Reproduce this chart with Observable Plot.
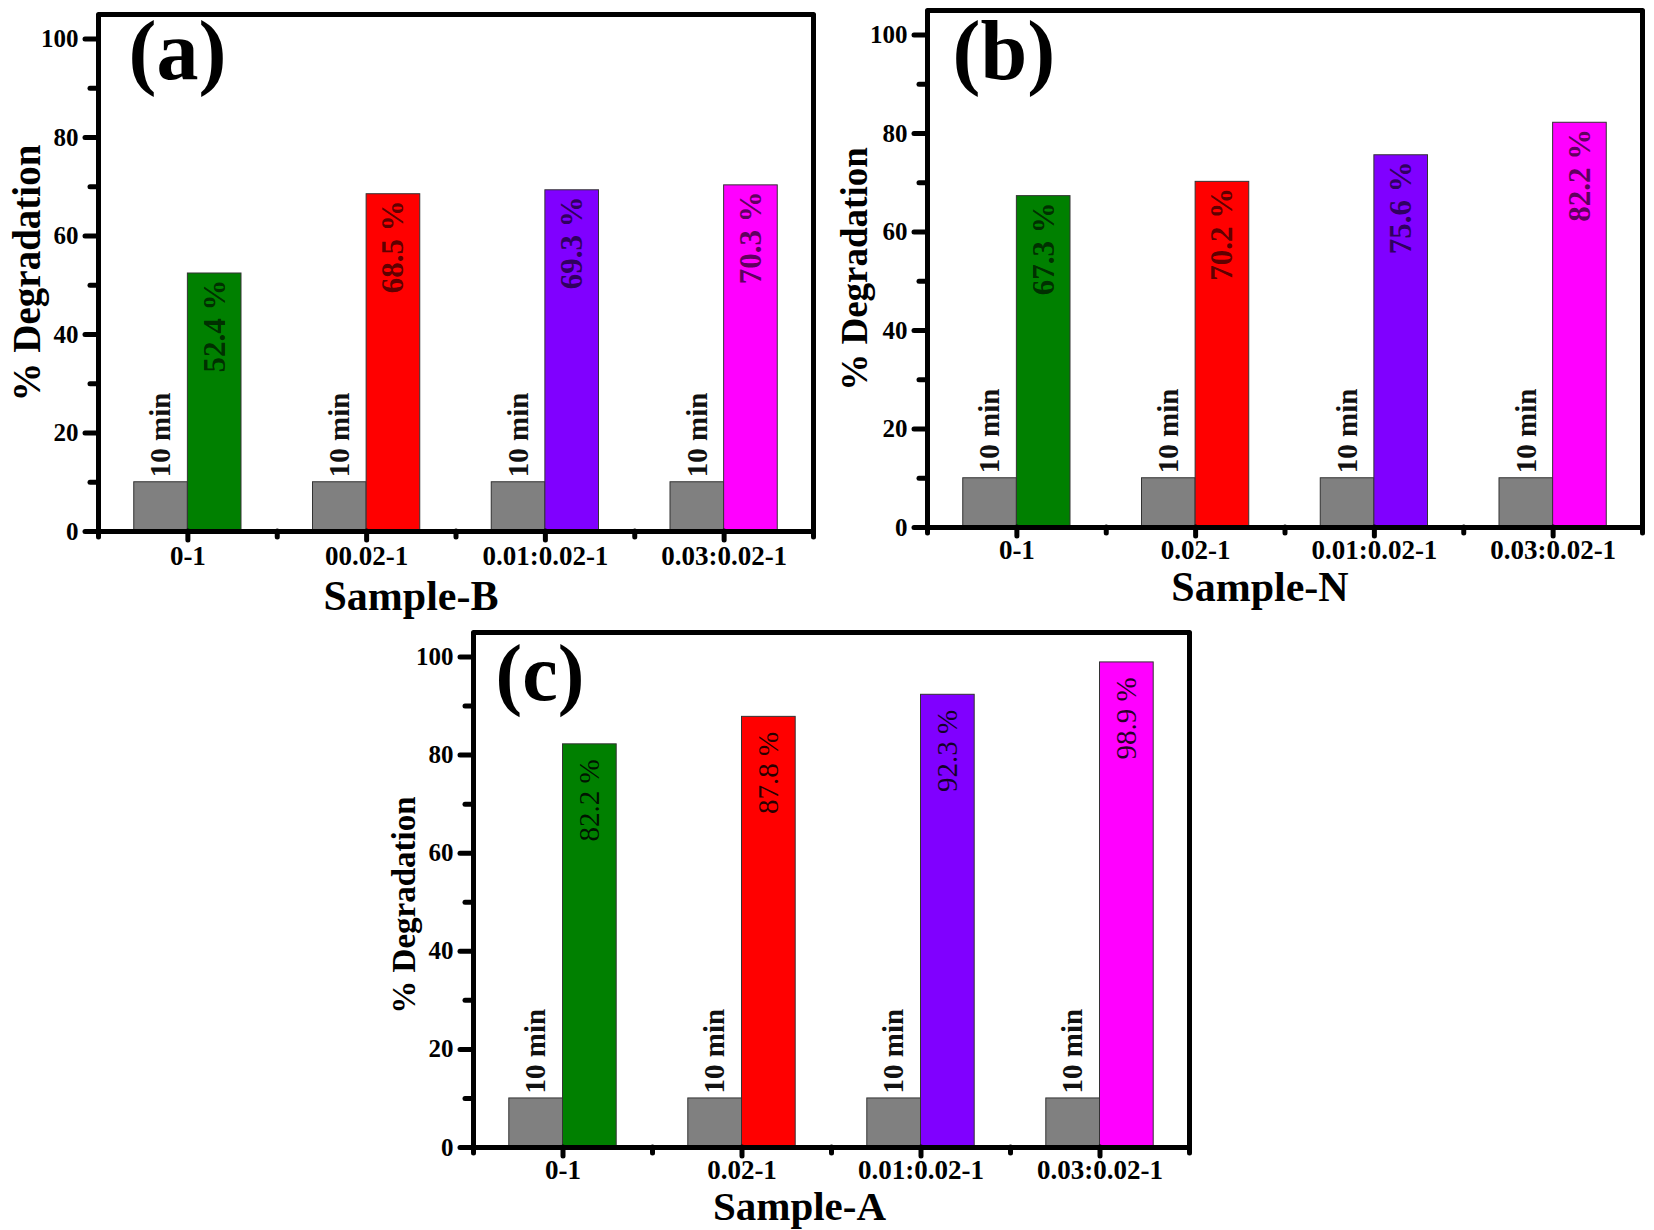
<!DOCTYPE html>
<html>
<head>
<meta charset="utf-8">
<script src="https://cdn.jsdelivr.net/npm/d3@7"></script>
<script src="https://cdn.jsdelivr.net/npm/@observablehq/plot@0.6"></script>
<style>
  html, body { margin: 0; padding: 0; background: #fff; }
  #page { position: relative; width: 1654px; height: 1230px; overflow: hidden; background: #fff; }
  .panel { position: absolute; }
</style>
</head>
<body>
<div id="page"></div>
<script>
// ---------------- data ----------------
const categoriesB = ["0-1", "00.02-1", "0.01:0.02-1", "0.03:0.02-1"];
const categoriesN = ["0-1", "0.02-1", "0.01:0.02-1", "0.03:0.02-1"];
const categoriesA = ["0-1", "0.02-1", "0.01:0.02-1", "0.03:0.02-1"];

const tenMinB = [10, 10, 10, 10];
const tenMinN = [10, 10, 10, 10];
const tenMinA = [10, 10, 10, 10];

const degradationB = [52.4, 68.5, 69.3, 70.3];
const degradationN = [67.3, 70.2, 75.6, 82.2];
const degradationA = [82.2, 87.8, 92.3, 98.9];

const barColors = ["#008000", "#ff0000", "#8000ff", "#ff00ff"];
const tenMinColor = "#808080";

const yMajorTicks = [0, 20, 40, 60, 80, 100];
const yMinorTicks = [10, 30, 50, 70, 90];

const panelLabels = ["(a)", "(b)", "(c)"];
const xTitles = ["Sample-B", "Sample-N", "Sample-A"];
const yTitle = "% Degradation";
const tenMinLabel = "10 min";

// ---------------- drawing ----------------
const FONT = "'Liberation Serif', 'Times New Roman', Times, serif";
const BW = 0.3; // width of one bar in x units

function panel(cats, refs, vals, label, xTitle, L) {
  const rows = cats.map((c, i) => ({cat: c, i: i + 1, ref: refs[i], val: vals[i], color: barColors[i]}));
  const majorX = rows.map(d => d.i);
  const minorX = d3.range(0.5, cats.length + 1, 1);
  const width = L.width, height = L.height;
  const marginRight = width - L.marginLeft - L.plotW;
  const marginBottom = height - L.marginTop - L.plotH;
  const svg = Plot.plot({
    width, height,
    marginLeft: L.marginLeft, marginTop: L.marginTop, marginRight, marginBottom,
    style: `background: transparent; overflow: visible; max-width: none; font-family: ${FONT};`,
    x: {type: "linear", domain: [0.5, cats.length + 0.5], axis: null},
    y: {domain: [0, 105], axis: null},
    color: {type: "identity"},
    marks: [
      Plot.rect(rows, {x1: d => d.i - BW, x2: d => d.i, y1: () => 0, y2: d => d.ref,
        fill: tenMinColor, stroke: "#333", strokeWidth: 1}),
      Plot.rect(rows, {x1: d => d.i, x2: d => d.i + BW, y1: () => 0, y2: d => d.val,
        fill: d => d.color, stroke: "#333", strokeWidth: 1}),
      Plot.text(rows, {x: d => d.i - BW / 2, y: d => d.ref, text: () => tenMinLabel, rotate: -90,
        textAnchor: "start", lineAnchor: "middle", dy: -5, fontSize: L.tenSize, fontWeight: "bold", fontFamily: FONT, fill: "#111"}),
      Plot.text(rows, {x: d => d.i + BW / 2, y: d => d.val, text: d => `${d.val.toFixed(1)} %`, rotate: -90,
        textAnchor: "end", lineAnchor: "middle", dy: L.valDy, fontSize: L.valSize, fontWeight: L.valWeight, fontFamily: FONT,
        fill: "#000", fillOpacity: L.valOpacity}),
      Plot.frame({stroke: "#000", strokeWidth: 5, strokeLinejoin: "round"}),
      Plot.ruleY(yMajorTicks, {y: d => d, insetLeft: -13, insetRight: L.plotW, stroke: "#000", strokeWidth: 5, strokeLinecap: "round"}),
      Plot.ruleY(yMinorTicks, {y: d => d, insetLeft: -8, insetRight: L.plotW, stroke: "#000", strokeWidth: 5, strokeLinecap: "round"}),
      Plot.ruleX(majorX, {x: d => d, insetTop: L.plotH, insetBottom: -9, stroke: "#000", strokeWidth: 5, strokeLinecap: "round"}),
      Plot.ruleX(minorX, {x: d => d, insetTop: L.plotH, insetBottom: -6, stroke: "#000", strokeWidth: 5, strokeLinecap: "round"}),
      Plot.text(yMajorTicks, {y: d => d, text: d => String(d), frameAnchor: "left", dx: -20, textAnchor: "end",
        lineAnchor: "middle", fontSize: 25, fontWeight: "bold", fontFamily: FONT, fill: "#000"}),
      Plot.text(rows, {x: "i", text: "cat", frameAnchor: "bottom", dy: L.tickDy, textAnchor: "middle", lineAnchor: "middle",
        fontSize: 27, fontWeight: "bold", fontFamily: FONT, fill: "#000"}),
      Plot.text([yTitle], {text: d => d, frameAnchor: "left", dx: L.yTitleDx, dy: L.yTitleDy, rotate: -90, textAnchor: "middle",
        lineAnchor: "middle", fontSize: L.yTitleSize, fontWeight: "bold", fontFamily: FONT, fill: "#000"}),
      Plot.text([xTitle], {text: d => d, frameAnchor: "bottom", dx: L.xTitleDx, dy: L.xTitleDy, textAnchor: "middle",
        lineAnchor: "middle", fontSize: L.xTitleSize, fontWeight: "bold", fontFamily: FONT, fill: "#000"}),
      Plot.text([label], {text: d => d, frameAnchor: "top-left", dx: L.labelDx, dy: L.labelDy, textAnchor: "start",
        lineAnchor: "top", fontSize: L.labelSize, fontWeight: "bold", fontFamily: FONT, fill: "#000"})
    ]
  });
  const div = document.createElement("div");
  div.className = "panel";
  div.style.left = L.left + "px";
  div.style.top = L.top + "px";
  div.appendChild(svg);
  document.getElementById("page").appendChild(div);
}

const layoutA = {left: 0, top: 0, width: 830, height: 620, marginLeft: 98, marginTop: 14, plotW: 715, plotH: 517,
  tenSize: 29, valSize: 31, valWeight: "bold", valDy: 6, valOpacity: 0.65, tickDy: 25, yTitleDx: -71, yTitleDy: 0, yTitleSize: 39,
  xTitleDx: -45, xTitleDy: 65, xTitleSize: 42, labelDx: 30, labelDy: 5, labelSize: 84};
const layoutB = {left: 827, top: 0, width: 827, height: 620, marginLeft: 100, marginTop: 10, plotW: 715, plotH: 517,
  tenSize: 29, valSize: 31, valWeight: "bold", valDy: 6, valOpacity: 0.65, tickDy: 23, yTitleDx: -72, yTitleDy: 0, yTitleSize: 37,
  xTitleDx: -25, xTitleDy: 60, xTitleSize: 42, labelDx: 25, labelDy: 9, labelSize: 84};
const layoutC = {left: 373, top: 618, width: 830, height: 612, marginLeft: 100, marginTop: 14, plotW: 716, plotH: 515,
  tenSize: 29, valSize: 29, valWeight: "normal", valDy: 15, valOpacity: 0.85, tickDy: 23, yTitleDx: -69, yTitleDy: 15, yTitleSize: 33,
  xTitleDx: -32, xTitleDy: 59, xTitleSize: 41, labelDx: 22, labelDy: 11, labelSize: 80};

panel(categoriesB, tenMinB, degradationB, panelLabels[0], xTitles[0], layoutA);
panel(categoriesN, tenMinN, degradationN, panelLabels[1], xTitles[1], layoutB);
panel(categoriesA, tenMinA, degradationA, panelLabels[2], xTitles[2], layoutC);
</script>
</body>
</html>
